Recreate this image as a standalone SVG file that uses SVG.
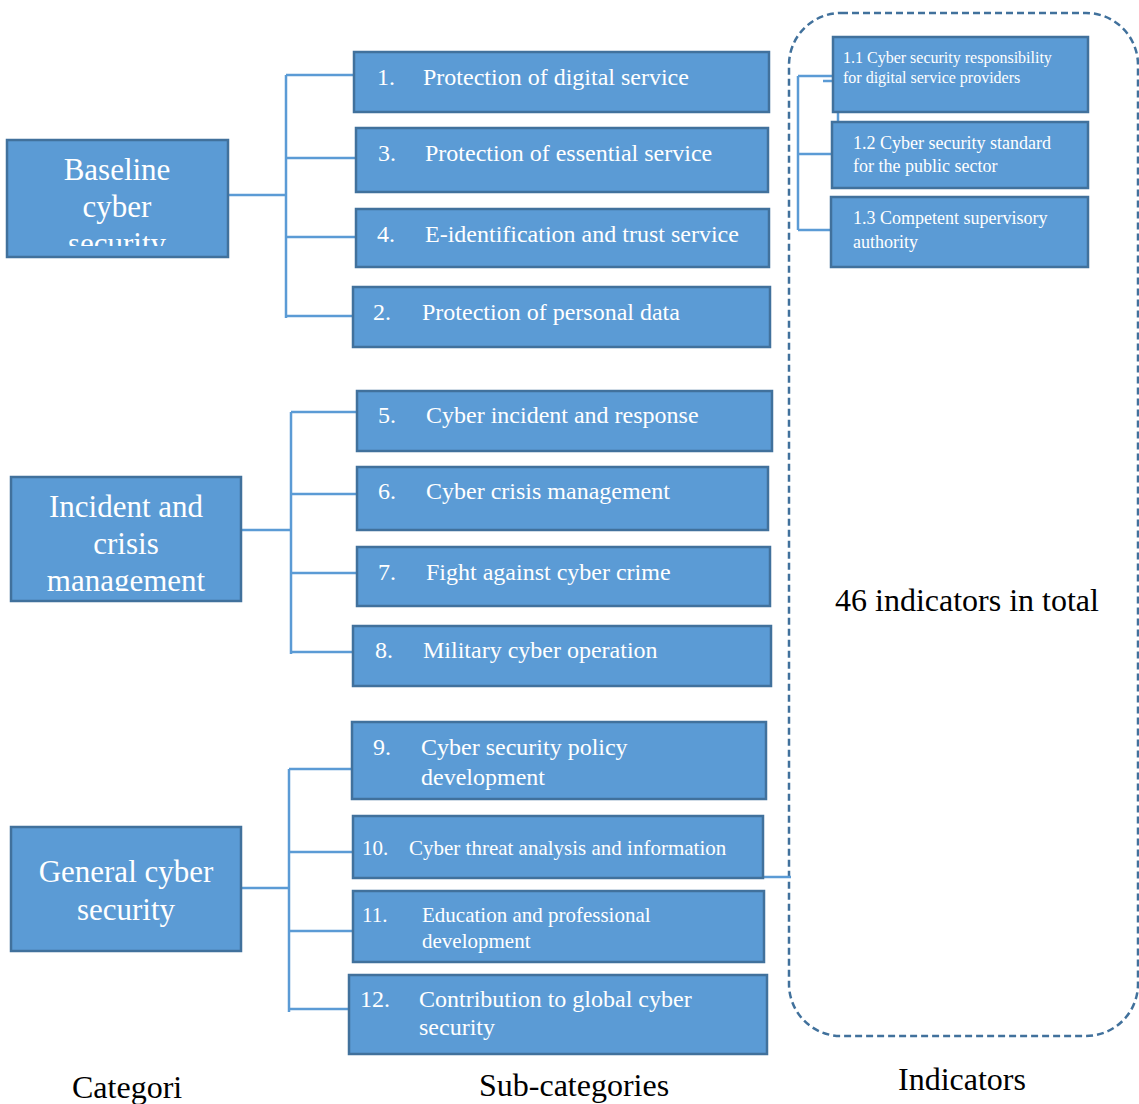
<svg xmlns="http://www.w3.org/2000/svg" width="1139" height="1104" viewBox="0 0 1139 1104">
  <defs>
    <style>
      .box { fill: #5B9BD5; stroke: #41719C; stroke-width: 2.5; }
      .wire { fill: none; stroke: #5B9BD5; stroke-width: 2.5; }
      .cat { font-family: "Liberation Serif", "Times New Roman", serif; font-size: 31px; fill: #ffffff; text-anchor: middle; }
      .sub { font-family: "Liberation Serif", "Times New Roman", serif; font-size: 24px; fill: #ffffff; }
      .sub.sm { font-size: 21px; }
      .ind { font-family: "Liberation Serif", "Times New Roman", serif; font-size: 18px; fill: #ffffff; }
      .ind.sm { font-size: 16px; }
      .label { font-family: "Liberation Serif", "Times New Roman", serif; font-size: 32px; fill: #000000; }
    </style>
    <clipPath id="clip-baseline"><rect x="8" y="141" width="219" height="105"/></clipPath>
    <clipPath id="clip-incident"><rect x="12" y="478" width="228" height="113"/></clipPath>
  </defs>
  <rect width="1139" height="1104" fill="#ffffff"/>

  <!-- indicator frame -->
  <rect x="789" y="13" width="349" height="1023" rx="52" ry="52" fill="none" stroke="#41719C" stroke-width="2.5" stroke-dasharray="7 4"/>

  <!-- connectors -->
  <g id="connectors">
    <path class="wire" d="M228 195 H286 M286 75 V318 M286 75 H354 M286 158 H356 M286 237 H356 M286 316 H353"/>
    <path class="wire" d="M241 530 H291 M291 412 V654 M291 412 H357 M291 494 H357 M291 573 H357 M291 652 H353"/>
    <path class="wire" d="M241 888 H289 M289 769 V1012 M289 769 H352 M289 852 H353 M289 931 H353 M289 1009 H349"/>
    <path class="wire" d="M763 877 H791"/>
    <path class="wire" d="M798 76 V230 M798 76 H833 M823 81 H833 M838 112 V122 M798 154 H832 M798 230 H831"/>
  </g>

  <!-- categories -->
  <g id="cat-baseline">
    <rect class="box" x="7" y="140" width="221" height="117"/>
    <g clip-path="url(#clip-baseline)">
      <text class="cat" x="117" y="180">Baseline</text>
      <text class="cat" x="117" y="217">cyber</text>
      <text class="cat" x="117" y="254">security</text>
    </g>
  </g>
  <g id="cat-incident">
    <rect class="box" x="11" y="477" width="230" height="124"/>
    <g clip-path="url(#clip-incident)">
      <text class="cat" x="126" y="517">Incident and</text>
      <text class="cat" x="126" y="554">crisis</text>
      <text class="cat" x="126" y="591">management</text>
    </g>
  </g>
  <g id="cat-general">
    <rect class="box" x="11" y="827" width="230" height="124"/>
    <text class="cat" x="126" y="882">General cyber</text>
    <text class="cat" x="126" y="920">security</text>
  </g>

  <!-- sub-categories -->
  <g id="sub-1">
    <rect class="box" x="354" y="52" width="415" height="60"/>
    <text class="sub" x="377" y="85">1.</text>
    <text class="sub" x="423" y="85">Protection of digital service</text>
  </g>
  <g id="sub-3">
    <rect class="box" x="356" y="128" width="412" height="64"/>
    <text class="sub" x="378" y="161">3.</text>
    <text class="sub" x="425" y="161">Protection of essential service</text>
  </g>
  <g id="sub-4">
    <rect class="box" x="356" y="209" width="413" height="58"/>
    <text class="sub" x="377" y="242">4.</text>
    <text class="sub" x="425" y="242">E-identification and trust service</text>
  </g>
  <g id="sub-2">
    <rect class="box" x="353" y="287" width="417" height="60"/>
    <text class="sub" x="373" y="320">2.</text>
    <text class="sub" x="422" y="320">Protection of personal data</text>
  </g>
  <g id="sub-5">
    <rect class="box" x="357" y="391" width="415" height="60"/>
    <text class="sub" x="378" y="423">5.</text>
    <text class="sub" x="426" y="423">Cyber incident and response</text>
  </g>
  <g id="sub-6">
    <rect class="box" x="357" y="467" width="411" height="63"/>
    <text class="sub" x="378" y="499">6.</text>
    <text class="sub" x="426" y="499">Cyber crisis management</text>
  </g>
  <g id="sub-7">
    <rect class="box" x="357" y="547" width="413" height="59"/>
    <text class="sub" x="378" y="580">7.</text>
    <text class="sub" x="426" y="580">Fight against cyber crime</text>
  </g>
  <g id="sub-8">
    <rect class="box" x="353" y="626" width="418" height="60"/>
    <text class="sub" x="375" y="658">8.</text>
    <text class="sub" x="423" y="658">Military cyber operation</text>
  </g>
  <g id="sub-9">
    <rect class="box" x="352" y="722" width="414" height="77"/>
    <text class="sub" x="373" y="755">9.</text>
    <text class="sub" x="421" y="755">Cyber security policy</text>
    <text class="sub" x="421" y="785">development</text>
  </g>
  <g id="sub-10">
    <rect class="box" x="353" y="816" width="410" height="62"/>
    <text class="sub sm" x="362" y="855">10.</text>
    <text class="sub sm" x="409" y="855">Cyber threat analysis and information</text>
  </g>
  <g id="sub-11">
    <rect class="box" x="353" y="891" width="411" height="71"/>
    <text class="sub sm" x="362" y="922">11.</text>
    <text class="sub sm" x="422" y="922">Education and professional</text>
    <text class="sub sm" x="422" y="948">development</text>
  </g>
  <g id="sub-12">
    <rect class="box" x="349" y="975" width="418" height="79"/>
    <text class="sub" x="360" y="1007">12.</text>
    <text class="sub" x="419" y="1007">Contribution to global cyber</text>
    <text class="sub" x="419" y="1035">security</text>
  </g>

  <!-- indicators -->
  <g id="ind-1-1">
    <rect class="box" x="833" y="37" width="255" height="75"/>
    <text class="ind sm" x="843" y="63">1.1 Cyber security responsibility</text>
    <text class="ind sm" x="843" y="83">for digital service providers</text>
  </g>
  <g id="ind-1-2">
    <rect class="box" x="832" y="122" width="256" height="66"/>
    <text class="ind" x="853" y="149">1.2 Cyber security standard</text>
    <text class="ind" x="853" y="172">for the public sector</text>
  </g>
  <g id="ind-1-3">
    <rect class="box" x="831" y="197" width="257" height="70"/>
    <text class="ind" x="853" y="224">1.3 Competent supervisory</text>
    <text class="ind" x="853" y="248">authority</text>
  </g>

  <text class="label" x="835" y="611">46 indicators in total</text>

  <!-- column captions -->
  <text class="label" x="72" y="1098">Categori</text>
  <text class="label" x="479" y="1096">Sub-categories</text>
  <text class="label" x="898" y="1090">Indicators</text>
</svg>
